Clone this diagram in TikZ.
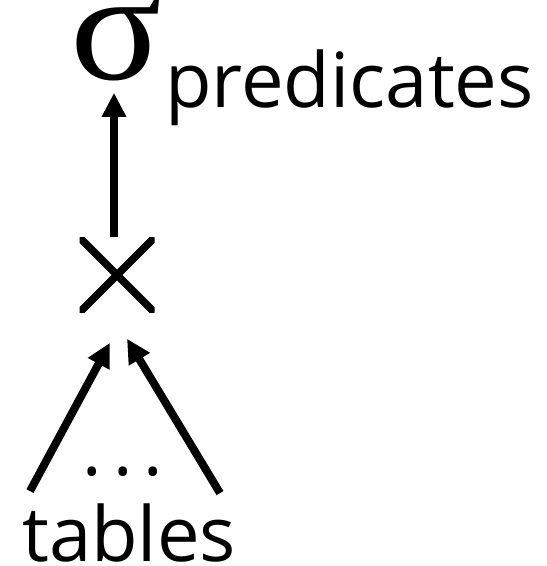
\documentclass[tikz,border=0pt]{standalone}
\usepackage{fontspec}
\setmainfont{Open Sans}
\newfontfamily\sigfont{Liberation Serif}
\usetikzlibrary{arrows.meta}
\tikzset{
  lbl/.style={inner sep=0pt, font=\fontsize{76}{80}\selectfont},
  arr/.style={line width=8pt, -{Triangle[length=24pt,width=23pt]}},
  crossnode/.style={minimum size=75pt, inner sep=0pt,
    path picture={\draw[line width=7.5pt]
      (path picture bounding box.north west) -- (path picture bounding box.south east)
      (path picture bounding box.south west) -- (path picture bounding box.north east);}}
}
\begin{document}
\begin{tikzpicture}[x=1pt,y=-1pt]
\useasboundingbox (0,0) rectangle (547,566);
\node[inner sep=0pt, anchor=center, font=\fontsize{170}{180}\sigfont] (sig) at (116,40) {\scalebox{1.0}[0.92]{σ}};
\node[lbl, anchor=base west] (pred) at (165,107) {predicates};
\node[crossnode] (cross) at (117,275) {};
\node[lbl, anchor=base west] (tab) at (22,561) {tables};
\node[inner sep=0pt, font=\fontsize{73}{80}\selectfont] (dots) at (123,472) {.\hspace{11pt}.\hspace{11pt}.};
\draw[arr] ([xshift=-3pt]cross.north) -- ([xshift=-3pt, yshift=144.5pt]cross.north);
\draw[arr] ([shift={(8,-12)}]tab.north west) -- ([shift={(-7,30)}]cross.south);
\draw[arr] ([shift={(198,-10)}]tab.north west) -- ([shift={(10,26)}]cross.south);
\end{tikzpicture}
\end{document}
